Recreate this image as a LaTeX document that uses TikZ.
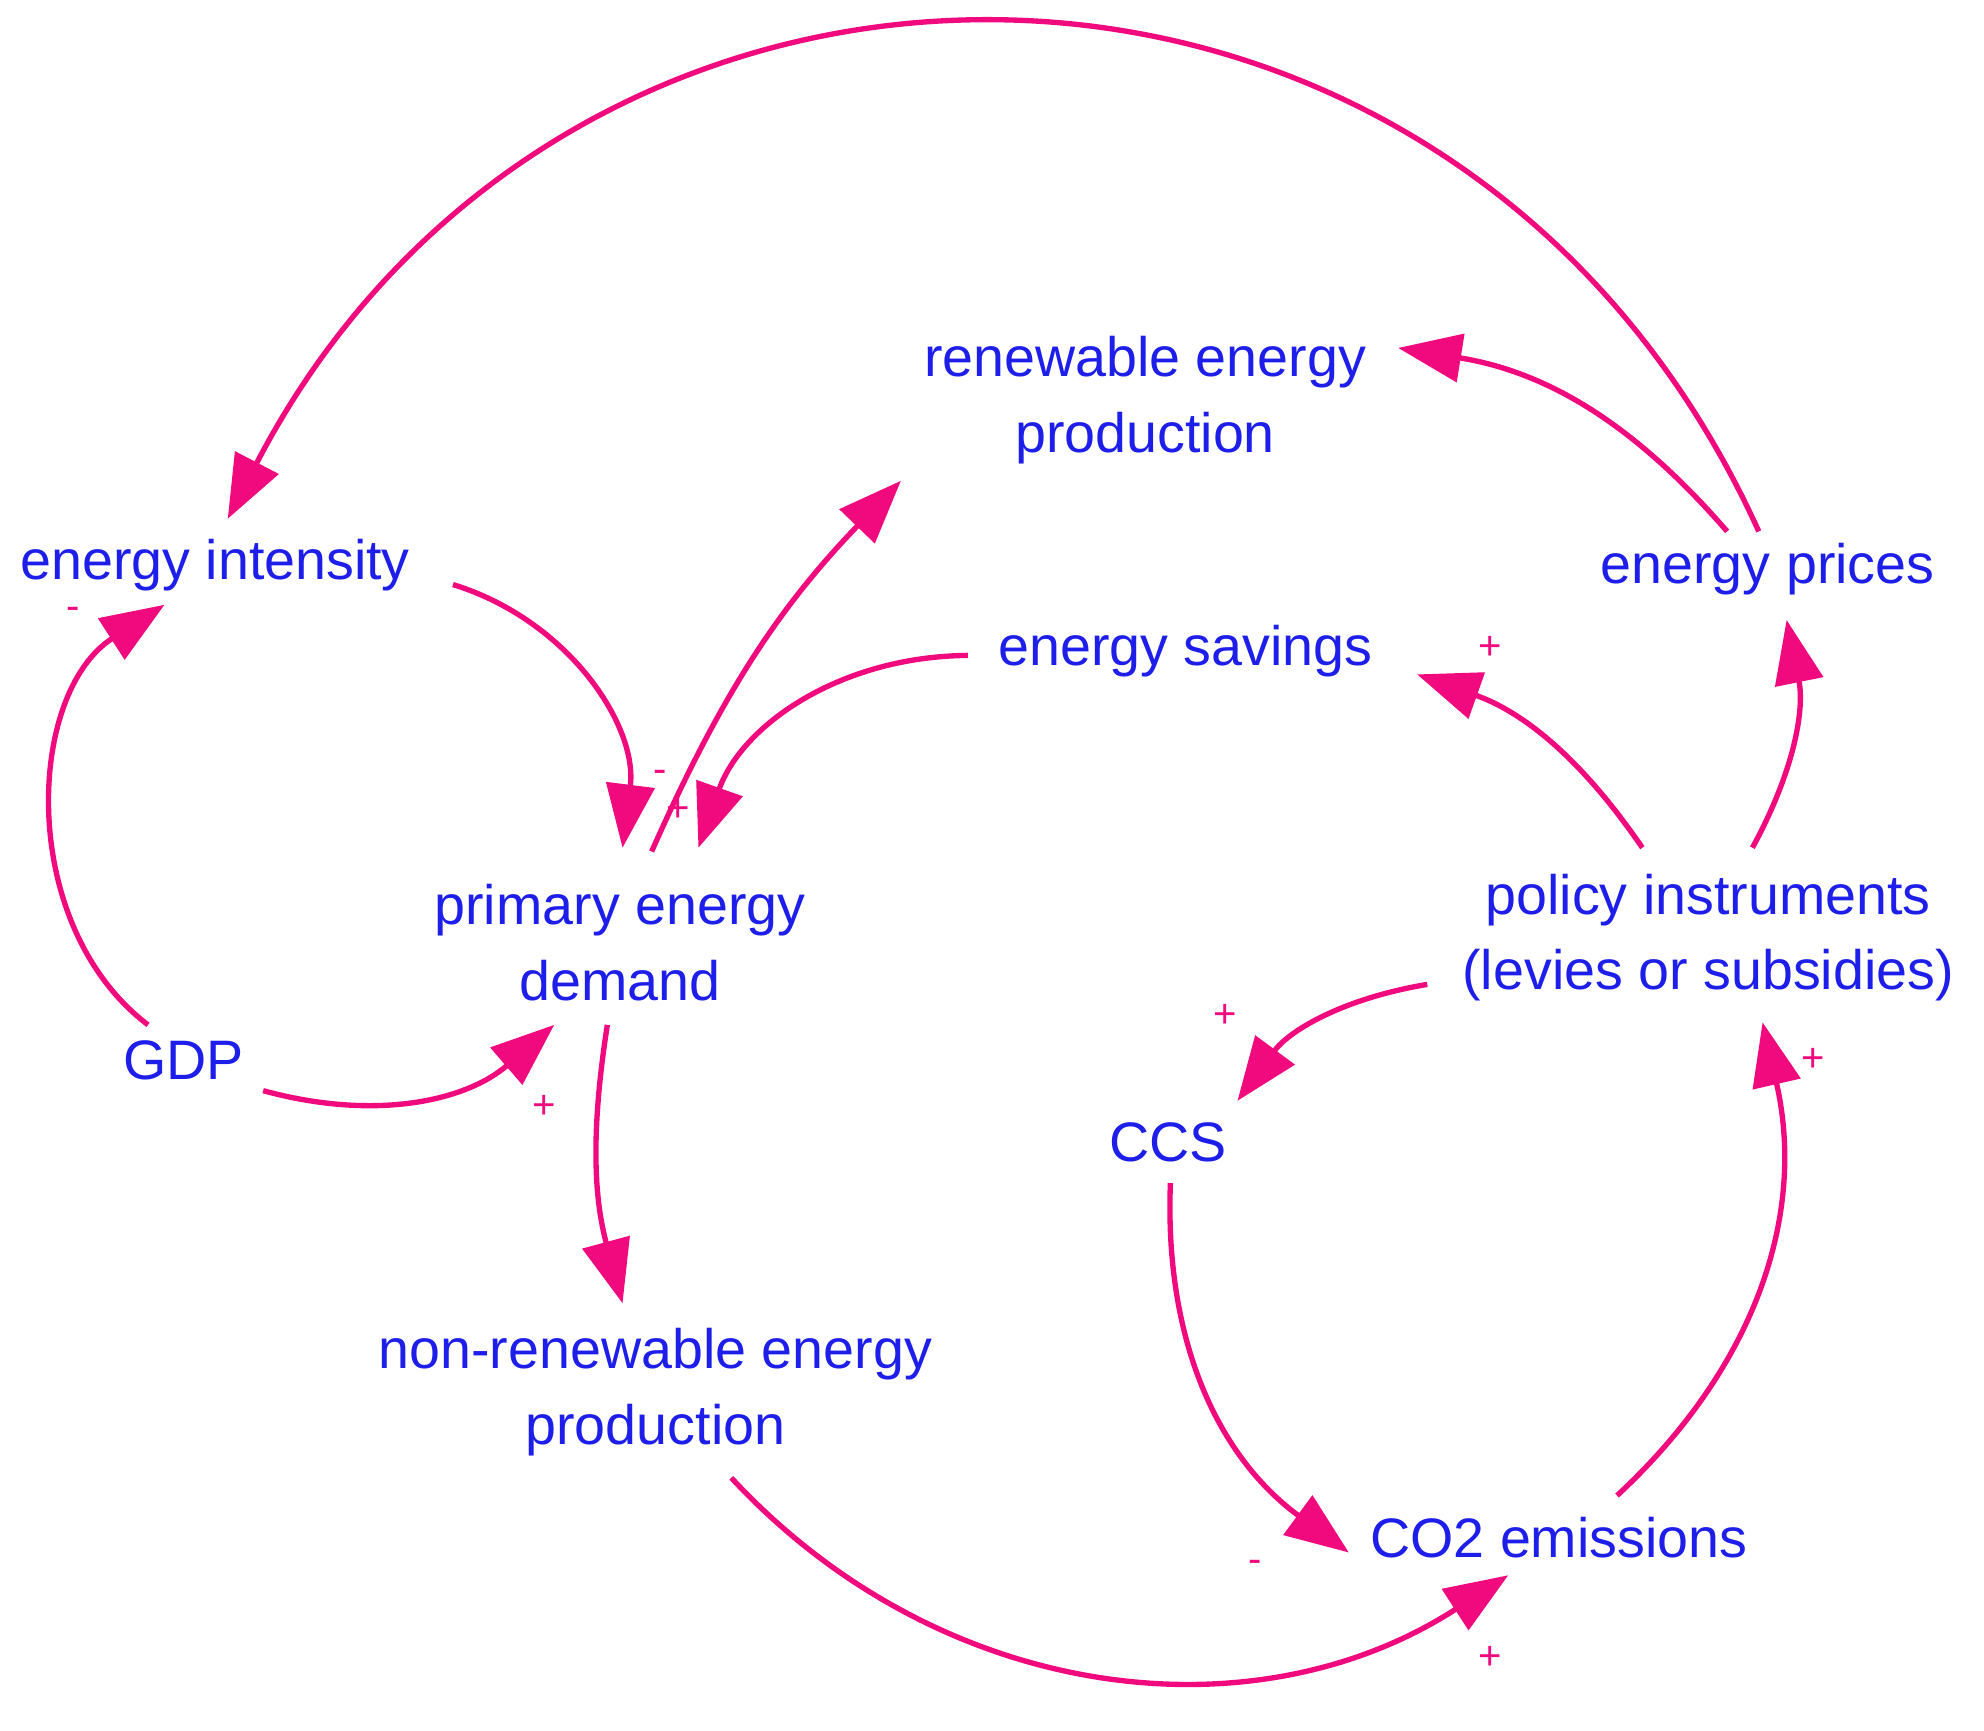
\documentclass[tikz,border=0pt]{standalone}
\usepackage{fontspec}
\setmainfont{Liberation Sans}
\usetikzlibrary{arrows.meta}
\definecolor{lbl}{RGB}{30,30,235}
\definecolor{arr}{RGB}{240,10,125}
\begin{document}
\begin{tikzpicture}[x=0.01cm,y=-0.01cm,
  var/.style={text=lbl,font=\fontsize{12.5pt}{17pt}\selectfont,align=center,inner sep=0pt},
  sgn/.style={text=arr,font=\fontsize{9pt}{9pt}\selectfont,inner sep=0pt},
  link/.style={draw=arr,line width=1.2pt,-{Triangle[length=0.5cm,width=0.38cm]}}]
\useasboundingbox (0,0) rectangle (1568,1368);
\node[var] (ren) at (905,316) {renewable energy\\production};
\node[var] (ei) at (170,447) {energy intensity};
\node[var] (es) at (937,515) {energy savings};
\node[var] (ep) at (1397,450) {energy prices};
\node[var] (ped) at (490,745) {primary energy\\demand};
\node[var] (pol) at (1350,741) {policy instruments\\(levies or subsidies)};
\node[var] (gdp) at (145,838) {GDP};
\node[var] (ccs) at (923,903) {CCS};
\node[var] (nr) at (518,1100) {non-renewable energy\\production};
\node[var] (co2) at (1232,1215) {CO2 emissions};
% endpoints
\coordinate (a1s) at (1390,420); \coordinate (a1e) at (180,410);
\coordinate (a2s) at (1365,420); \coordinate (a2e) at (1105,275);
\coordinate (a3s) at (1385,670); \coordinate (a3e) at (1412,490);
\coordinate (a4s) at (1298,670); \coordinate (a4e) at (1120,533);
\coordinate (a5s) at (765,518);  \coordinate (a5e) at (552,670);
\coordinate (a6s) at (358,462);  \coordinate (a6e) at (492,670);
\coordinate (a7s) at (515,673);  \coordinate (a7e) at (712,380);
\coordinate (a8s) at (117,810);  \coordinate (a8e) at (130,478);
\coordinate (a9s) at (208,862);  \coordinate (a9e) at (438,810);
\coordinate (a10s) at (480,810); \coordinate (a10e) at (492,1030);
\coordinate (a11s) at (1128,778); \coordinate (a11e) at (978,870);
\coordinate (a12s) at (925,935); \coordinate (a12e) at (1066,1227);
\coordinate (a13s) at (578,1168); \coordinate (a13e) at (1192,1245);
\coordinate (a14s) at (1278,1182); \coordinate (a14e) at (1393,808);
\draw[link] (a1s) .. controls (1150,-110) and (450,-110) .. (a1e);
\draw[link] (a2s) to[bend right=20] (a2e);
\draw[link] (a3s) to[bend right=20] (a3e);
\draw[link] (a4s) to[bend right=18] (a4e);
\draw[link] (a5s) to[bend right=35] (a5e);
\draw[link] (a6s) to[bend left=40] (a6e);
\draw[link] (a7s) to[bend left=10] (a7e);
\draw[link] (a8s) to[bend left=55] (a8e);
\draw[link] (a9s) to[bend right=28] (a9e);
\draw[link] (a10s) to[bend right=12] (a10e);
\draw[link] (a11s) to[bend right=22] (a11e);
\draw[link] (a12s) to[bend right=28] (a12e);
\draw[link] (a13s) to[bend right=40] (a13e);
\draw[link] (a14s) to[bend right=30] (a14e);
\node[sgn] (s1) at (58,485) {-};
\node[sgn] (s2) at (522,614) {-};
\node[sgn] (s3) at (536,640) {+};
\node[sgn] (s4) at (1178,512) {+};
\node[sgn] (s5) at (430,875) {+};
\node[sgn] (s6) at (968,803) {+};
\node[sgn] (s7) at (1433,838) {+};
\node[sgn] (s8) at (992,1238) {-};
\node[sgn] (s9) at (1178,1310) {+};
\end{tikzpicture}
\end{document}
